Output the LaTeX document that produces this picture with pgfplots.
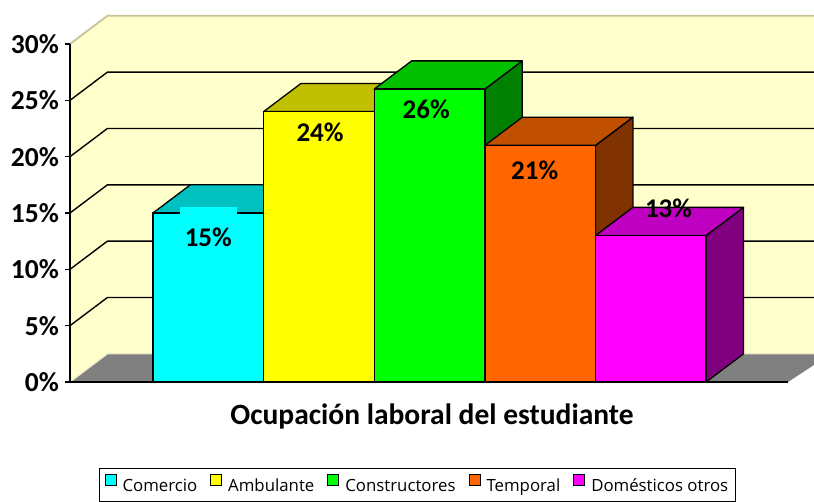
\documentclass[border=0pt]{standalone}
\usepackage{pgfplots}
\pgfplotsset{compat=1.18}
\usepackage{fontspec}
\setmainfont{Carlito}
\newfontfamily\legfont{Open Sans}

\definecolor{wall}{HTML}{FFFFCC}
\definecolor{floorc}{HTML}{808080}
\definecolor{edge}{HTML}{C8C29A}
\definecolor{edgelt}{HTML}{EEEAC8}
\definecolor{cyF}{HTML}{00FFFF}\definecolor{cyT}{HTML}{00C0C0}\definecolor{cyS}{HTML}{008080}
\definecolor{yeF}{HTML}{FFFF00}\definecolor{yeT}{HTML}{C0C000}\definecolor{yeS}{HTML}{808000}
\definecolor{grF}{HTML}{00FF00}\definecolor{grT}{HTML}{00C000}\definecolor{grS}{HTML}{008000}
\definecolor{orF}{HTML}{FF6600}\definecolor{orT}{HTML}{C04F00}\definecolor{orS}{HTML}{803300}
\definecolor{maF}{HTML}{FF00FF}\definecolor{maT}{HTML}{C000C0}\definecolor{maS}{HTML}{800080}

% depth of the 3-D effect, in axis units
\newcommand{\dx}{0.338}
\newcommand{\dy}{2.5}

\pgfplotsset{
  cubeface/.style={draw=black,line width=1.3pt,line join=round,forget plot},
}
\tikzset{lbl/.style={font=\bfseries\fontsize{27}{27}\selectfont,anchor=base,inner sep=0pt}}

% one column: position, value, front, top, side colour
\newcommand{\cube}[5]{%
  \pgfmathsetmacro\cL{#1-0.5}\pgfmathsetmacro\cR{#1+0.5}%
  \pgfmathsetmacro\cLd{#1-0.5+\dx}\pgfmathsetmacro\cRd{#1+0.5+\dx}%
  \pgfmathsetmacro\cV{#2}\pgfmathsetmacro\cVd{#2+\dy}%
  \addplot[cubeface,fill=#5] coordinates {(\cR,0) (\cRd,\dy) (\cRd,\cVd) (\cR,\cV)} -- cycle;
  \addplot[cubeface,fill=#4] coordinates {(\cL,\cV) (\cR,\cV) (\cRd,\cVd) (\cLd,\cVd)} -- cycle;
  \addplot[cubeface,fill=#3] coordinates {(\cL,0) (\cR,0) (\cR,\cV) (\cL,\cV)} -- cycle;
}

\begin{document}
\begin{tikzpicture}
\useasboundingbox (0,0) rectangle (814pt,502pt);
\clip (0,0) rectangle (814pt,502pt);
\begin{axis}[
  at={(70pt,120pt)}, anchor=south west,
  scale only axis, width=718pt, height=338pt,
  xmin=-1.25, xmax=5.24, ymin=0, ymax=30,
  clip=false, axis on top,
  axis x line=bottom, axis y line=left,
  x axis line style={-}, y axis line style={-},
  axis line style={line width=1.6pt},
  xtick=\empty,
  ytick={0,5,...,30},
  yticklabels={0\%,5\%,10\%,15\%,20\%,25\%,30\%},
  tick align=outside, major tick length=5pt,
  tick style={line width=1.3pt,black},
  yticklabel style={font=\bfseries\fontsize{27.5}{27.5}\selectfont,inner sep=1pt,xshift=-5pt},
  legend columns=5,
  legend cell align=left,
  legend image code/.code={\draw[#1,draw=black,line width=1pt] (0pt,0pt) rectangle (11pt,11pt);},
  legend style={at={(0.0404,-0.2544)},anchor=north west,draw=black,line width=1pt,
    font=\legfont\fontsize{16.8}{18}\selectfont,inner xsep=5pt,inner ysep=6pt,
    /tikz/every odd column/.append style={column sep=4pt},
    /tikz/every even column/.append style={column sep=11pt}},
]
% walls and floor
\addplot[forget plot,fill=floorc,draw=none] coordinates {(-1.25,0) (5.24,0) (5.8,3.6) (-0.912,2.5)} -- cycle;
\addplot[forget plot,fill=wall,draw=none] coordinates {(-1.25,0) (-0.912,2.5) (-0.912,32.5) (-1.25,30)} -- cycle;
\addplot[forget plot,fill=wall,draw=none] coordinates {(-0.912,2.5) (5.8,2.5) (5.8,32.5) (-0.912,32.5)} -- cycle;
\addplot[forget plot,edgelt,line width=1.2pt] coordinates {(-1.25,0) (-0.912,2.5) (5.8,2.5)};
\addplot[forget plot,edge,line width=1.8pt] coordinates {(-1.25,30) (-0.912,32.5) (5.8,32.5)};
% grid on the walls
\addplot[forget plot,black,line width=1.4pt] coordinates {(-1.25,5) (-0.912,7.5) (5.8,7.5)};
\addplot[forget plot,black,line width=1.4pt] coordinates {(-1.25,10) (-0.912,12.5) (5.8,12.5)};
\addplot[forget plot,black,line width=1.4pt] coordinates {(-1.25,15) (-0.912,17.5) (5.8,17.5)};
\addplot[forget plot,black,line width=1.4pt] coordinates {(-1.25,20) (-0.912,22.5) (5.8,22.5)};
\addplot[forget plot,black,line width=1.4pt] coordinates {(-1.25,25) (-0.912,27.5) (5.8,27.5)};
% columns
\cube{0}{15}{cyF}{cyT}{cyS}
\cube{1}{24}{yeF}{yeT}{yeS}
\cube{2}{26}{grF}{grT}{grS}
\cube{3}{21}{orF}{orT}{orS}
\cube{4}{13}{maF}{maT}{maS}
% data labels
\node[lbl,fill=cyF,text height=40pt,inner xsep=5pt] at (axis cs:0,15) [yshift=-34pt] {15\%};
\node[lbl] at (axis cs:1.01,24) [yshift=-30pt] {24\%};
\node[lbl] at (axis cs:1.97,26) [yshift=-29pt] {26\%};
\node[lbl] at (axis cs:2.95,21) [yshift=-34.6pt] {21\%};
\node[lbl] at (axis cs:4.16,13) [yshift=18.5pt] {13\%};
\node[font=\bfseries\fontsize{29.5}{30}\selectfont,anchor=base] at (rel axis cs:0.504,-0.127) {Ocupación laboral del estudiante};
% legend
\addlegendimage{fill=cyF}\addlegendentry{Comercio}
\addlegendimage{fill=yeF}\addlegendentry{Ambulante}
\addlegendimage{fill=grF}\addlegendentry{Constructores}
\addlegendimage{fill=orF}\addlegendentry{Temporal}
\addlegendimage{fill=maF}\addlegendentry{Domésticos otros}
\end{axis}
\end{tikzpicture}
\end{document}
